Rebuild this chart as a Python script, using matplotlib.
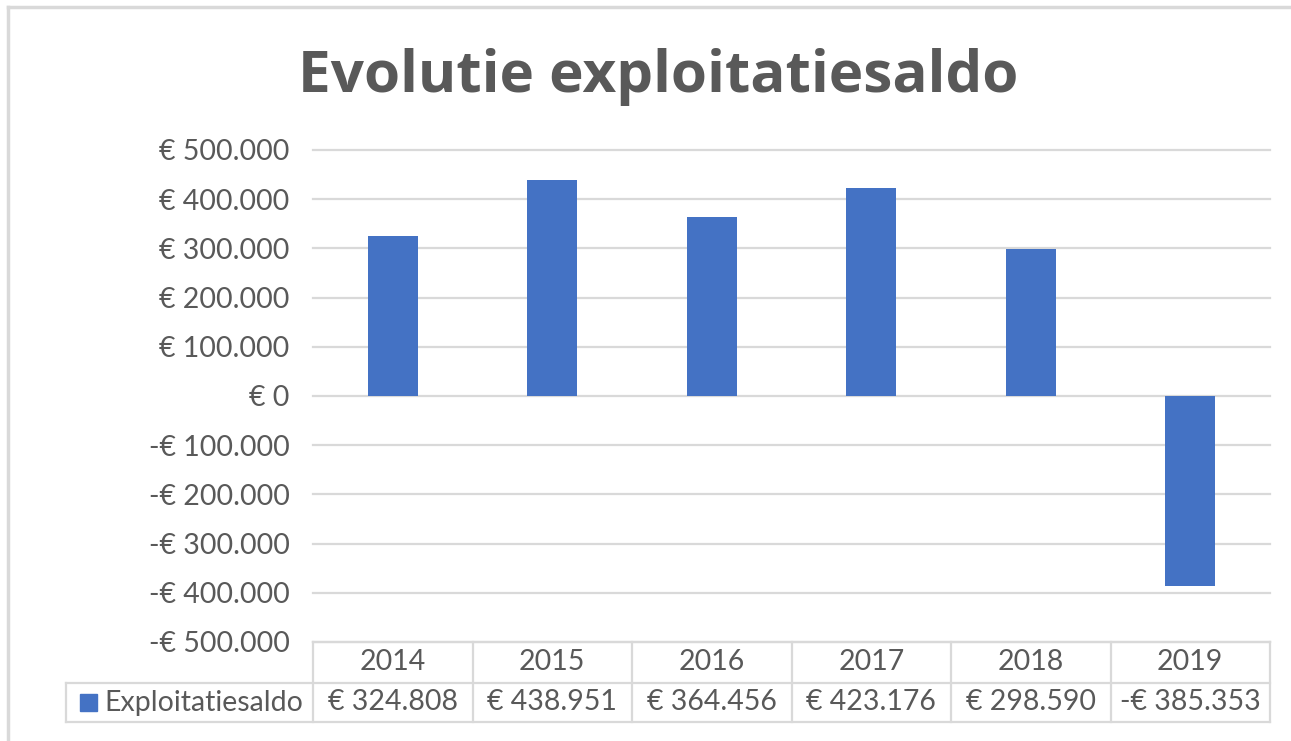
import matplotlib
matplotlib.use("Agg")
import matplotlib.pyplot as plt
from matplotlib.lines import Line2D
from matplotlib.patches import Rectangle

# data
years = ["2014", "2015", "2016", "2017", "2018", "2019"]
saldo = [324808, 438951, 364456, 423176, 298590, -385353]
series_name = "Exploitatiesaldo"
y_ticks = [500000, 400000, 300000, 200000, 100000, 0,
           -100000, -200000, -300000, -400000, -500000]

BLUE = "#4472C4"
TEXT = "#595959"
LINE = "#D9D9D9"
FS = 20.5

plt.rcParams["font.family"] = ["Lato", "DejaVu Sans"]


def euro(v):
    if v == 0:
        return "€ 0"
    s = f"{abs(v):,.0f}".replace(",", ".")
    return ("-€ " if v < 0 else "€ ") + s


fig = plt.figure(figsize=(12.91, 7.41), dpi=100)
ax = fig.add_axes([313 / 1291, 1 - 642 / 741, (1270 - 313) / 1291, (642 - 150) / 741])

x = list(range(len(years)))
ax.bar(x, saldo, width=0.315, color=BLUE, zorder=3)

ax.set_xlim(-0.5, len(years) - 0.5)
ax.set_ylim(-500000, 500000)
ax.set_yticks(y_ticks)
ax.set_yticklabels([euro(v) for v in y_ticks])
ax.tick_params(axis="y", length=0, pad=17, labelsize=FS, labelcolor=TEXT)
ax.set_xticks([])
for sp in ax.spines.values():
    sp.set_visible(False)
ax.yaxis.grid(True, color=LINE, linewidth=1.6, zorder=0)
for gl in ax.get_ygridlines():
    gl.set_clip_on(False)
ax.set_axisbelow(True)

# data table below the axes (axes fraction coordinates)
n = len(years)
row1 = -41 / 492
row2 = -80 / 492
legend_left = (66 - 313) / 957
tr = ax.transAxes


def tline(xs, ys):
    ax.add_line(Line2D(xs, ys, transform=tr, color=LINE, lw=1.6, clip_on=False))


tline([0, 1], [0, 0])
tline([legend_left, 1], [row1, row1])
tline([legend_left, 1], [row2, row2])
for k in range(n + 1):
    tline([k / n, k / n], [0, row2])
tline([legend_left, legend_left], [row1, row2])

for i, (yr, v) in enumerate(zip(years, saldo)):
    xc = (i + 0.5) / n
    ax.text(xc, row1 / 2, yr, transform=tr, ha="center", va="center",
            fontsize=FS, color=TEXT)
    ax.text(xc, (row1 + row2) / 2, euro(v), transform=tr, ha="center",
            va="center", fontsize=FS, color=TEXT)

ax.add_patch(Rectangle(((80 - 313) / 957, (row1 + row2) / 2 - 8.5 / 492),
                       17 / 957, 17 / 492, transform=tr, color=BLUE, clip_on=False))
ax.text((104 - 313) / 957, (row1 + row2) / 2, series_name, transform=tr,
        ha="left", va="center", fontsize=FS, color=TEXT)

# title
fig.text(658 / 1291, 1 - 77 / 741, "Evolutie exploitatiesaldo", ha="center",
         va="center", fontsize=42, fontweight="bold", color=TEXT,
         family=["Open Sans", "Lato", "DejaVu Sans"])

# chart border
fig.add_artist(Line2D([8 / 1291, 1], [1 - 7 / 741, 1 - 7 / 741],
                      transform=fig.transFigure, color=LINE, lw=2.5))
fig.add_artist(Line2D([8 / 1291, 8 / 1291], [0, 1 - 7 / 741],
                      transform=fig.transFigure, color=LINE, lw=2.5))

fig.savefig("out.png", dpi=100)
